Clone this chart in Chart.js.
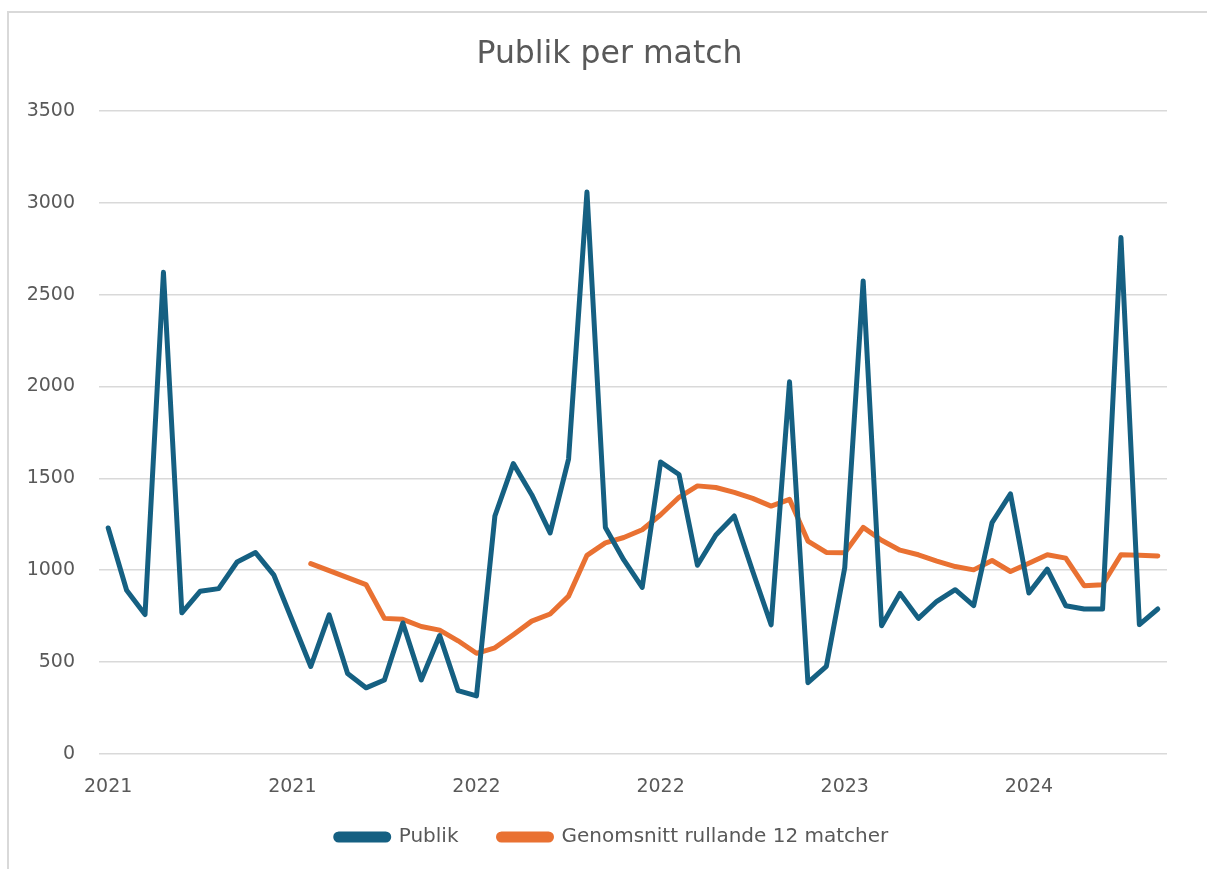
<!DOCTYPE html>
<html>
<head>
<meta charset="utf-8">
<script src="https://cdn.jsdelivr.net/npm/chart.js@4.4.1/dist/chart.umd.min.js"></script>
<style>
  html, body { margin: 0; padding: 0; background: #fff; }
  #wrap { position: absolute; left: 0; top: 0; width: 1207px; height: 869px; }
  #frame {
    position: absolute; left: 7px; top: 11px; width: 1300px; height: 1000px;
    border-left: 2px solid #d9d9d9; border-top: 2px solid #d9d9d9;
  }
  canvas { position: absolute; left: 0; top: 0; }
</style>
</head>
<body>
<div id="wrap">
  <div id="frame"></div>
  <canvas id="chart" width="1207" height="869"></canvas>
</div>
<script>
'use strict';

// Årtal som visas var tionde match
const yearTicks = ['2021', '2021', '2022', '2022', '2023', '2024'];

// Publik per match
const publik = [
  1230, 891, 759, 2621, 768, 886, 900, 1045, 1096, 973,
  725, 476, 757, 438, 360, 403, 713, 403, 645, 345,
  316, 1295, 1580, 1411, 1203, 1605, 3058, 1233, 1056, 907,
  1589, 1521, 1027, 1192, 1295, 994, 703, 2025, 388, 477,
  1014, 2574, 698, 874, 738, 831, 894, 807, 1259, 1415,
  876, 1006, 807, 789, 789, 2810, 704, 789
];

// Genomsnitt rullande 12 matcher (saknas för de första 11)
const rollingAvg = [
  null, null, null, null, null, null, null, null, null, null,
  null, 1036, 998, 960, 922, 738, 733, 694, 674, 616,
  548, 578, 649, 723, 762, 859, 1081, 1149, 1178, 1220,
  1302, 1397, 1459, 1450, 1424, 1391, 1349, 1386, 1159, 1097,
  1095, 1233, 1163, 1109, 1084, 1050, 1020, 1002, 1053, 993,
  1038, 1084, 1066, 916, 921, 1084, 1082, 1078
];

const categories = publik.map((_, i) => (i % 10 === 0 ? yearTicks[i / 10] : ''));

const TEXT = '#595959';
const GRID = '#d9d9d9';
const FONT = "'DejaVu Sans', sans-serif";

// Excel centrerar titel och legend över hela diagramytan, inte över
// layoutrutan -- flytta dem lite efter layouten
const nudge = {
  id: 'nudge',
  afterLayout(chart) {
    const t = chart.titleBlock;
    const l = chart.legend;
    t.left += 22; t.right += 22;
    l.left += 24.5; l.right += 24.5;
    l.top -= 12; l.bottom -= 12;
  },
};

new Chart(document.getElementById('chart'), {
  type: 'line',
  data: {
    labels: categories,
    datasets: [
      {
        label: 'Publik',
        data: publik,
        borderColor: '#156082',
        backgroundColor: '#156082',
        borderWidth: 5,
        pointRadius: 0,
        borderJoinStyle: 'round',
        borderCapStyle: 'round',
        tension: 0,
      },
      {
        label: 'Genomsnitt rullande 12 matcher',
        data: rollingAvg,
        borderColor: '#e97132',
        backgroundColor: '#e97132',
        borderWidth: 5,
        pointRadius: 0,
        borderJoinStyle: 'round',
        borderCapStyle: 'round',
        spanGaps: false,
        tension: 0,
      },
    ],
  },
  options: {
    responsive: false,
    animation: false,
    devicePixelRatio: 1,
    layout: { padding: { left: 8, right: 40, top: 0, bottom: 0 } },
    plugins: {
      tooltip: { enabled: false },
      title: {
        display: true,
        text: 'Publik per match',
        color: TEXT,
        font: { family: FONT, size: 31.5, weight: 'normal' },
        padding: { top: 36, bottom: 37 },
      },
      legend: {
        position: 'bottom',
        labels: {
          color: TEXT,
          font: { family: FONT, size: 20 },
          boxWidth: 53,
          boxHeight: 6,
          useBorderRadius: true,
          borderRadius: 3,
          padding: 40,
        },
      },
    },
    scales: {
      x: {
        offset: true,
        afterFit: (scale) => { scale.height = 45; },
        grid: { display: false, drawTicks: false },
        border: { display: false },
        ticks: {
          autoSkip: false,
          maxRotation: 0,
          color: TEXT,
          padding: 22,
          font: { family: FONT, size: 19 },
        },
      },
      y: {
        min: 0,
        max: 3500,
        afterFit: (scale) => { scale.width = 91; },
        grid: { color: GRID, lineWidth: 1.5, drawTicks: false },
        border: { display: false },
        ticks: {
          stepSize: 500,
          color: TEXT,
          padding: 24,
          font: { family: FONT, size: 19 },
          callback: (v) => String(v),
        },
      },
    },
  },
  plugins: [nudge],
});
</script>
</body>
</html>
